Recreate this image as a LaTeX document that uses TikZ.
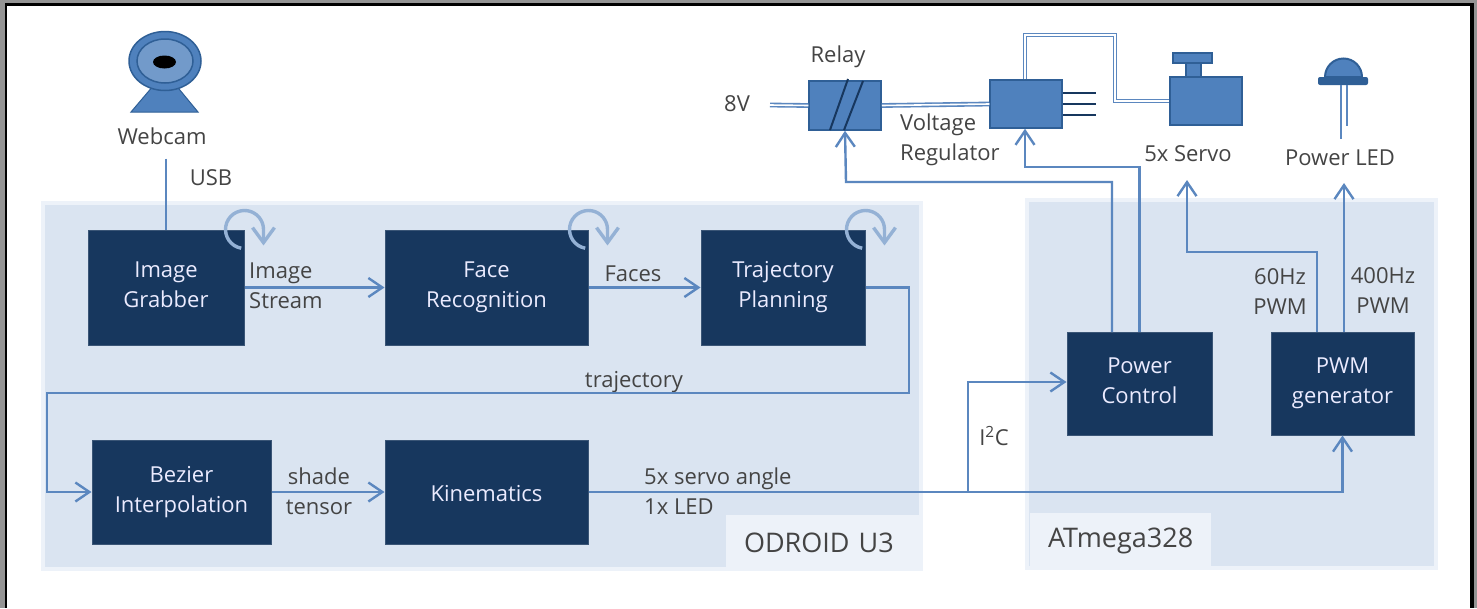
\documentclass[tikz,border=0pt]{standalone}
\usepackage{fontspec}
\setmainfont{Open Sans}
\usetikzlibrary{arrows.meta,shapes.geometric}
\definecolor{navy}{HTML}{17375E}
\definecolor{wire}{HTML}{5B87BF}
\definecolor{part}{HTML}{4F81BD}
\definecolor{partedge}{HTML}{2F5F96}
\definecolor{panelblue}{HTML}{DAE4F1}
\definecolor{panelpale}{HTML}{EDF2F9}
\definecolor{labelgray}{HTML}{444444}
\tikzstyle{block} = [rectangle, draw=navy!85!white, fill=navy, text=blue!8!white, line width=1pt,
    align=center, inner sep=0pt, font=\fontsize{22}{30}\selectfont,
    execute at end node={\rule[-6pt]{0pt}{0pt}}]
\tikzstyle{pair} = [block, execute at begin node={\rule{0pt}{33pt}}]
\tikzstyle{panel} = [rectangle, draw=panelpale, fill=panelblue, line width=4pt, inner sep=0pt]
\tikzstyle{patch} = [rectangle, fill=panelpale, text=labelgray, inner sep=0pt, align=left,
    font=\fontsize{27}{30}\selectfont]
\tikzstyle{caption} = [text=labelgray, align=center, inner sep=0pt, font=\fontsize{22}{30}\selectfont]
\tikzstyle{device} = [rectangle, draw=partedge, fill=part, line width=1.5pt, inner sep=0pt]
\tikzstyle{line} = [draw=wire, line width=2.4pt, -{Straight Barb[length=14pt,width=19pt,line width=2.4pt]}]
\tikzstyle{plain} = [draw=wire, line width=2.4pt]
\tikzstyle{supply} = [draw=wire, line width=1.6pt, double=white, double distance=1.6pt]
\tikzstyle{lead} = [draw=navy, line width=2pt]
\tikzstyle{spin} = [draw=wire!65!white, line width=3.4pt,
    -{Straight Barb[length=15pt,width=22pt,line width=3.4pt]}]
\newcommand{\selfloop}[1]{%
  \path [spin] ([xshift=-3.3pt,yshift=-18.7pt]#1.north east) arc[start angle=260, end angle=0, radius=19pt]
    -- ++(0pt,-16pt);
}
\begin{document}
\begin{tikzpicture}[x=1pt, y=-1pt]
        \useasboundingbox (0,0) rectangle (1477,608);
        % Frame of the page
        \fill [black!42] (0,0) rectangle (1477,608);
        \fill [black] (5,3) rectangle (1474,608);
        \fill [white] (7,6) rectangle (1470,608);

        % Place panels
        \node [panel, minimum width=878pt, minimum height=366pt] (odroid) at (482,386) {};
        \node [panel, minimum width=409pt, minimum height=368pt] (atmega) at (1231.5,384) {};
        \node [patch, text width=196pt, minimum height=55pt] (odroidname) at (824,542.5) {\hspace*{18pt}ODROID U3};
        \node [patch, text width=181pt, minimum height=56pt] (atmeganame) at (1120.5,541) {\hspace*{18pt}ATmega328};

        % Place nodes
        % 1. Processing on the ODROID
        \node [pair, minimum width=156pt, minimum height=115pt] (grab) at (166,287.5) {Image\\Grabber};
        \node [pair, right of=grab, node distance=320.5pt, minimum width=203pt, minimum height=115pt] (face) {Face\\Recognition};
        \node [pair, right of=face, node distance=296.5pt, minimum width=164pt, minimum height=115pt] (traj) {Trajectory\\Planning};
        \node [pair, minimum width=179pt, minimum height=104pt] (bezi) at (181.5,492) {Bezier\\Interpolation};
        \node [block, below of=face, node distance=204.5pt, minimum width=203pt, minimum height=104pt,
            execute at begin node={\rule{0pt}{25pt}}] (kine) {Kinematics};

        % 2. Processing on the ATmega
        \node [pair, minimum width=145pt, minimum height=103pt] (powe) at (1139.5,383.5) {Power\\Control};
        \node [pair, right of=powe, node distance=203pt, minimum width=143pt, minimum height=103pt] (pwmg) {PWM\\generator};

        % 3. Hardware parts
        \node [device, minimum width=72pt, minimum height=49pt] (rela) at (845,105.5) {};
        \node [device, minimum width=72pt, minimum height=48pt] (regu) at (1026,104) {};
        \node [device, minimum width=72pt, minimum height=48pt] (serv) at (1206,101) {};
        \node [device, minimum width=15pt, minimum height=14pt] (neck) at (1193.5,70) {};
        \node [device, minimum width=39pt, minimum height=10pt] (horn) at (1192.5,58) {};
        \node [caption] (sour) at (737,104) {8V};
        \coordinate (sourend) at (770,105);
        \coordinate (wirea) at (1025,35);
        \coordinate (wireb) at (1115,35);
        \coordinate (pina) at (1096,93);
        \coordinate (pinb) at (1096,104);
        \coordinate (pinc) at (1096,115);

        % Webcam and LED
        \fill [part, draw=partedge, line width=1pt] (131,112) -- (165,72) -- (198,112) -- cycle;
        \node [draw=partedge, fill=part, ellipse, line width=1.5pt, minimum width=72pt, minimum height=59pt, inner sep=0pt] (came) at (165,61) {};
        \node [draw=partedge, fill=part!80!white, ellipse, line width=1.5pt, minimum width=56pt, minimum height=44pt, inner sep=0pt] (lens) at (165,61) {};
        \node [fill=black, ellipse, minimum width=23pt, minimum height=13pt, inner sep=0pt] (iris) at (164.5,62) {};
        \draw [partedge, fill=part, line width=2pt] (1325,77) arc[start angle=180, end angle=0, radius=18.5pt] -- cycle;
        \node [rectangle, rounded corners=2pt, fill=partedge, minimum width=50pt, minimum height=8pt, inner sep=0pt] (flan) at (1343,81) {};
        \coordinate (lega) at (1341,139);
        \coordinate (legb) at (1347,126);

        % Labels
        \node [caption] (webc) at (162,136) {Webcam};
        \node [caption] (usbl) at (211,178) {USB};
        \node [caption, align=left, anchor=west] (strl) at (249,286) {Image\\Stream};
        \node [caption] (facl) at (633,274) {Faces};
        \node [caption] (trjl) at (634,382) {trajectory};
        \node [caption] (shal) at (319,491) {shade\\tensor};
        \node [caption, align=left, anchor=west] (angl) at (644,491) {5x servo angle\\1x LED};
        \node [caption] (ictl) at (994,436) {I\textsuperscript{2}C};
        \node [caption] (rell) at (838,57) {Relay};
        \node [caption, align=left, anchor=west] (regl) at (900,140) {Voltage\\Regulator};
        \node [caption] (serl) at (1188,154) {5x Servo};
        \node [caption] (ledl) at (1340,158) {Power LED};
        \node [caption] (hzal) at (1280,292) {60Hz\\PWM};
        \node [caption] (hzbl) at (1383,291) {400Hz\\PWM};

        % Draw edges
        \path [plain] ([yshift=-14pt]grab.north |- webc.south) -- (grab.north);
        \path [line] (grab) -- (face);
        \path [line] (face) -- (traj);
        \path [line] (traj.east) -| (909,393) -| (47,492) -- (bezi.west);
        \path [line] (bezi) -- (kine);
        \path [line] (kine.east) -| (968,382) -- (powe.west |- 0,382);
        \path [line] (kine.east) -| (pwmg.south);
        \path [line] (1112,332) |- (846,182) -- (rela.south);
        \path [line] (powe.north) |- (1025,167) -- (regu.south -| 1025,0);
        \path [line] (1317,332) |- (1187,252) -- (1187,180);
        \path [line] (1344,332) -- (1344,183);

        % Power wiring
        \path [supply] (sourend) -- (rela.west);
        \path [supply] (rela.east) -- (regu.west);
        \path [supply] (wirea |- regu.north) -- (wirea) -- (wireb) |- (serv.west);
        \path [lead] (regu.east |- pina) -- (pina);
        \path [lead] (regu.east |- pinb) -- (pinb);
        \path [lead] (regu.east |- pinc) -- (pinc);
        \path [draw=navy, line width=2pt] (848,79) -- (830,130);
        \path [draw=navy, line width=2pt] (863,81) -- (844,130);
        \path [plain] (flan.south -| lega) -- (lega);
        \path [plain] (flan.south -| legb) -- (legb);

        \selfloop{grab}
        \selfloop{face}
        \selfloop{traj}
      \end{tikzpicture}
\end{document}
